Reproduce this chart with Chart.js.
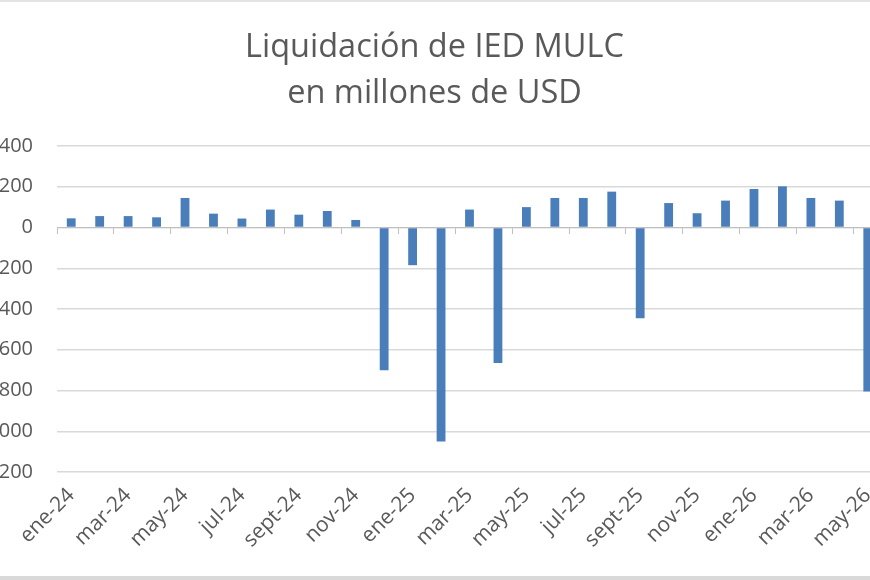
<!DOCTYPE html>
<html lang="es">
<head>
<meta charset="utf-8">
<title>Liquidación de IED MULC</title>
<script src="https://cdn.jsdelivr.net/npm/chart.js@4/dist/chart.umd.min.js"></script>
<style>
    html, body { margin: 0; padding: 0; background: #fff; }
    #wrap { position: relative; width: 870px; height: 580px; overflow: hidden; background: #fff; }
    #chart { position: absolute; left: -25px; top: 0; }
    .edge-top { position: absolute; left: 0; top: 0; width: 870px; height: 2px; background: #e3e3e3; }
    .edge-bottom { position: absolute; left: 0; bottom: 0; width: 870px; height: 4px; background: #d9d9d9; }
</style>
</head>
<body>
<div id="wrap">
    <canvas id="chart" width="920" height="580"></canvas>
    <div class="edge-top"></div>
    <div class="edge-bottom"></div>
</div>
<script>
const months = ['ene-24', 'feb-24', 'mar-24', 'abr-24', 'may-24', 'jun-24', 'jul-24', 'ago-24', 'sept-24', 'oct-24', 'nov-24', 'dic-24',
    'ene-25', 'feb-25', 'mar-25', 'abr-25', 'may-25', 'jun-25', 'jul-25', 'ago-25', 'sept-25', 'oct-25', 'nov-25', 'dic-25',
    'ene-26', 'feb-26', 'mar-26', 'abr-26', 'may-26'];

// liquidación neta en millones de USD
const iedValues = [45, 56, 56, 50, 145, 68, 44, 88, 63, 81, 37, -700,
    -185, -1050, 88, -665, 100, 145, 145, 176, -445, 120, 70, 132,
    189, 202, 145, 132, -805];

const yTicks = [400, 200, 0, -200, -400, -600, -800, -1000, -1200];
const titleLines = ['Liquidación de IED MULC', 'en millones de USD'];

const textGray = '#595959';
const gridGray = '#d9d9d9';
const axisGray = '#bfbfbf';
const fontName = 'Open Sans';

const ctx = document.getElementById('chart').getContext('2d');

new Chart(ctx, {
    type: 'bar',
    data: {
        labels: months,
        datasets: [{
            label: 'IED MULC',
            data: iedValues,
            backgroundColor: '#4a7ebb',
            borderWidth: 0,
            barPercentage: 0.31,
            categoryPercentage: 1.0,
            xAxisID: 'x',
            yAxisID: 'y'
        }]
    },
    options: {
        responsive: false,
        animation: false,
        layout: { padding: { left: 12, right: 13, top: 0, bottom: 0 } },
        plugins: {
            legend: { display: false },
            tooltip: { enabled: false },
            title: {
                display: true,
                text: titleLines,
                color: textGray,
                font: { family: fontName, size: 32.5, weight: 'normal', lineHeight: 46 / 32.5 },
                padding: { top: 25, bottom: 29 }
            }
        },
        scales: {
            // eje de categorías cruzando en 0, solo marcas
            x: {
                position: { y: 0 },
                offset: true,
                grid: {
                    offset: true,
                    drawOnChartArea: false,
                    drawTicks: true,
                    tickLength: 6,
                    color: (c) => c.index % 2 === 0 ? axisGray : 'rgba(0,0,0,0)'
                },
                border: { display: true, color: axisGray, width: 1 },
                ticks: { display: false, autoSkip: false }
            },
            // etiquetas abajo
            xl: {
                type: 'category',
                position: 'bottom',
                offset: true,
                grid: { display: false },
                border: { display: false },
                ticks: {
                    autoSkip: false,
                    minRotation: 45,
                    maxRotation: 45,
                    padding: 3,
                    color: textGray,
                    font: { family: fontName, size: 21 },
                    callback: function (v, i) { return i % 2 === 0 ? months[i] : ''; }
                },
                afterFit: (s) => { s.height = 108; }
            },
            y: {
                min: yTicks[yTicks.length - 1],
                max: yTicks[0],
                grid: { color: gridGray, lineWidth: 1.5, drawTicks: false },
                border: { display: false },
                ticks: {
                    stepSize: 200,
                    padding: 24,
                    color: textGray,
                    font: { family: fontName, size: 20 },
                    callback: (v) => String(v)
                },
                afterFit: (s) => { s.width = 70; }
            }
        }
    }
});
</script>
</body>
</html>
